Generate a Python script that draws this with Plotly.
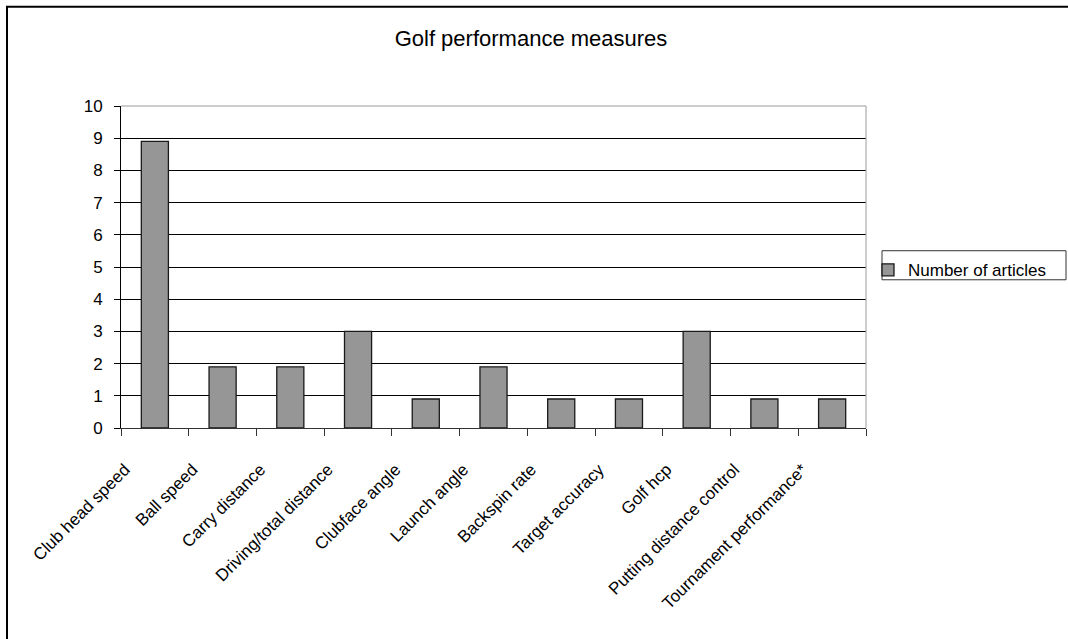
import plotly.graph_objects as go

# Performance measures and the number of articles reporting each
measures = [
    "Club head speed", "Ball speed", "Carry distance", "Driving/total distance",
    "Clubface angle", "Launch angle", "Backspin rate", "Target accuracy",
    "Golf hcp", "Putting distance control", "Tournament performance*",
]
articles = [8.9, 1.9, 1.9, 3.0, 0.9, 1.9, 0.9, 0.9, 3.0, 0.9, 0.9]
y_ticks = list(range(0, 11))

FONT = "Liberation Sans, Arial, sans-serif"

fig = go.Figure()
fig.add_trace(go.Bar(
    x=measures,
    y=articles,
    name="Number of articles",
    marker=dict(color="#969696", line=dict(color="#1a1a1a", width=1.3)),
))

fig.update_layout(
    width=1068,
    height=639,
    margin=dict(l=121, r=202, t=106, b=211, autoexpand=False),
    paper_bgcolor="white",
    plot_bgcolor="white",
    font=dict(family=FONT, size=17, color="black"),
    bargap=0.6,
    title=dict(
        text="Golf performance measures",
        font=dict(family=FONT, size=22, color="black"),
        x=531 / 1068, xanchor="center",
        y=1 - 38 / 639, yanchor="middle",
    ),
    showlegend=True,
    legend=dict(
        x=(868 - 121) / 745, xanchor="left",
        y=(427.5 - 252) / 321.5, yanchor="top",
        bgcolor="rgba(0,0,0,0)",
        borderwidth=0,
        itemwidth=30,
        font=dict(family=FONT, size=17, color="black"),
    ),
)

fig.update_yaxes(
    range=[0, 10],
    tickvals=y_ticks,
    showgrid=True, gridcolor="black", gridwidth=1,
    showline=True, linecolor="black", linewidth=1,
    ticks="outside", ticklen=6, tickcolor="black",
    ticklabelstandoff=8,
    zeroline=False,
    tickfont=dict(family=FONT, size=17, color="black"),
)
fig.update_xaxes(
    type="category",
    tickangle=-45,
    showline=True, linecolor="#333333", linewidth=1,
    ticks="outside", ticklen=7, tickcolor="#333333",
    tickson="boundaries",
    ticklabelstandoff=24,
    ticklabelshift=-30,
    showgrid=False,
    tickfont=dict(family=FONT, size=17, color="black"),
)

# plot area border (grey) on the top and right edges
fig.add_shape(type="line", xref="x domain", yref="y domain",
              x0=0, x1=1, y0=1, y1=1, line=dict(color="#9a9a9a", width=1))
fig.add_shape(type="line", xref="x domain", yref="y domain",
              x0=1, x1=1, y0=0, y1=1, line=dict(color="#9a9a9a", width=1))

# legend frame
fig.add_shape(type="rect", xref="paper", yref="paper",
              x0=(882 - 121) / 745, x1=(1066 - 121) / 745,
              y0=(427.5 - 279.5) / 321.5, y1=(427.5 - 250.5) / 321.5,
              line=dict(color="#333333", width=1))

# outer chart frame
fig.add_shape(type="rect", xref="paper", yref="paper",
              x0=(7 - 121) / 745, x1=(1100 - 121) / 745,
              y0=(427.5 - 700) / 321.5, y1=(427.5 - 7) / 321.5,
              line=dict(color="black", width=2))

fig.write_html("out.html")
